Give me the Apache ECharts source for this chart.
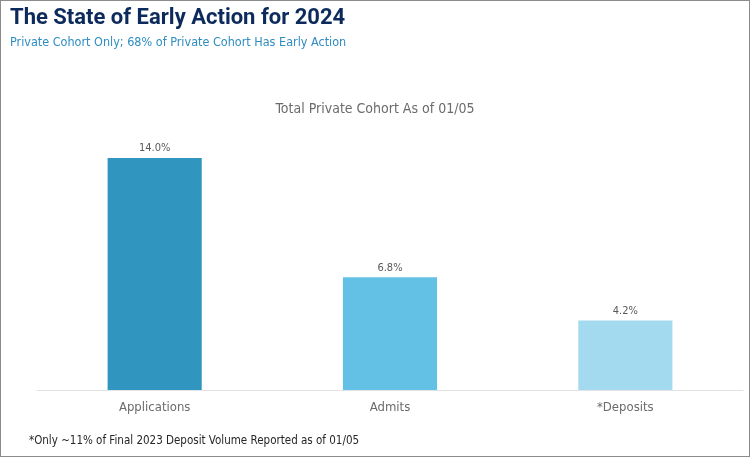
<!DOCTYPE html>
<html>
<head>
<meta charset="utf-8">
<script src="https://cdn.jsdelivr.net/npm/echarts@6/dist/echarts.min.js"></script>
<style>
    html, body { margin: 0; padding: 0; background: #fff; }
    #frame { width: 750px; height: 457px; box-sizing: border-box; border: 1px solid #8c8c8c; position: relative; }
    #main { position: absolute; left: -1px; top: -1px; width: 750px; height: 457px; }
</style>
</head>
<body>
<div id="frame"><div id="main"></div></div>
<script>
    // categories and values (percent)
    let categories = ['Applications', 'Admits', '*Deposits'];
    let values = [14.0, 6.8, 4.2];
    let barColors = ['#3196bf', '#63c1e5', '#a4daf0'];

    let font = "'Liberation Sans Narrow', 'DejaVu Sans Condensed', Roboto, sans-serif";

    let myChart = echarts.init(document.getElementById('main'));

    let option = {
        animation: false,
        textStyle: { fontFamily: font },
        title: [
            {
                text: 'The State of Early Action for 2024',
                left: 5,
                top: 2,
                textStyle: { fontFamily: "Roboto, sans-serif", fontSize: 22, fontWeight: 'bold', color: '#0c2a5b' }
            },
            {
                text: 'Private Cohort Only; 68% of Private Cohort Has Early Action',
                left: 5,
                top: 31,
                textStyle: { fontFamily: font, fontSize: 12.5, fontWeight: 'normal', color: '#2e8dc2' }
            },
            {
                text: 'Total Private Cohort As of 01/05',
                left: 'center',
                top: 97,
                textStyle: { fontFamily: font, fontSize: 14, fontWeight: 'normal', color: '#6b6b6b' }
            },
            {
                text: '*Only ~11% of Final 2023 Deposit Volume Reported as of 01/05',
                left: 24,
                top: 430,
                textStyle: { fontFamily: font, fontSize: 11.5, fontWeight: 'normal', color: '#262626' }
            }
        ],
        grid: {
            left: 37,
            right: 7,
            top: 158,
            bottom: 67,
            containLabel: false
        },
        xAxis: {
            type: 'category',
            data: categories,
            axisLine: { lineStyle: { color: '#e3e3e3', width: 1 } },
            axisTick: { show: false },
            axisLabel: { color: '#6b6b6b', fontSize: 13, margin: 11, fontFamily: font }
        },
        yAxis: {
            type: 'value',
            min: 0,
            max: 14,
            show: false
        },
        series: [
            {
                type: 'bar',
                barWidth: '40%',
                data: values.map(function (v, i) {
                    return { value: v, itemStyle: { color: barColors[i] } };
                }),
                label: {
                    show: true,
                    position: 'top',
                    distance: 4,
                    color: '#595959',
                    fontSize: 11,
                    fontFamily: font,
                    formatter: function (p) { return p.value.toFixed(1) + '%'; }
                }
            }
        ]
    };

    myChart.setOption(option);
</script>
</body>
</html>
